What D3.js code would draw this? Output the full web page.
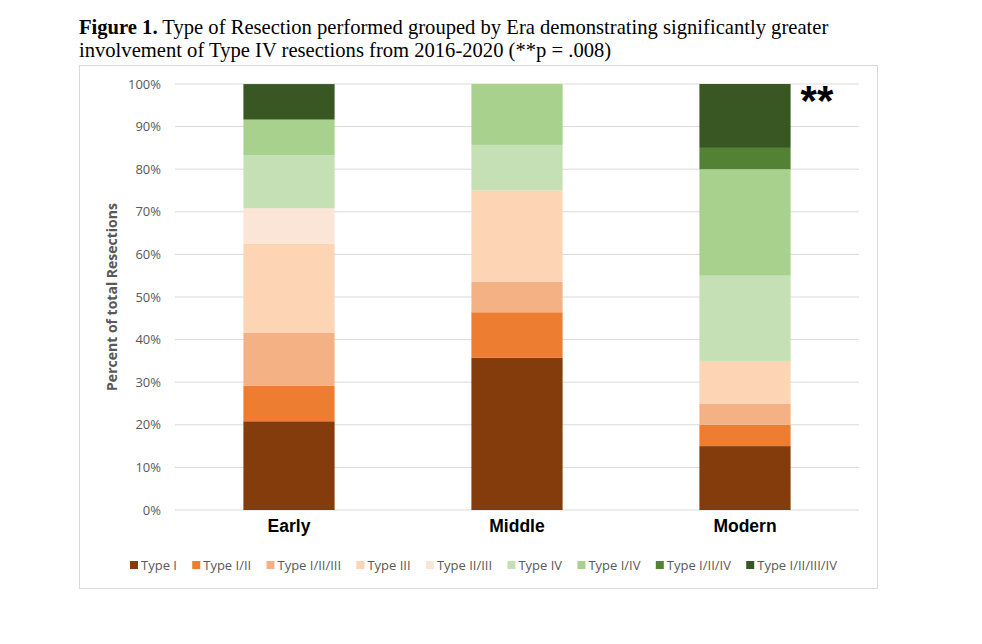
<!DOCTYPE html>
<html lang="en">
  <head>
    <meta charset="UTF-8" />
    <title>Type of Resection by Era</title>
    <style>
      body { margin: 0; background: #fff; }
      svg { display: block; }
    </style>
  </head>
  <body>
    <svg width="982" height="644"></svg>

    <script src="https://d3js.org/d3.v7.min.js"></script>
    <script>
      // Data (percent of resections per era)
      const eras = ["Early", "Middle", "Modern"];
      const types = ["Type I", "Type I/II", "Type I/II/III", "Type III", "Type II/III",
                     "Type IV", "Type I/IV", "Type I/II/IV", "Type I/II/III/IV"];
      const early = [20.83, 8.33, 12.5, 20.83, 8.33, 12.5, 8.33, 0, 8.33];
      const middle = [35.71, 10.71, 7.14, 21.43, 0, 10.71, 14.29, 0, 0];
      const modern = [15, 5, 5, 10, 0, 20, 25, 5, 15];
      const yTicks = [0, 10, 20, 30, 40, 50, 60, 70, 80, 90, 100];
      const colors = ["#843c0c", "#ed7d31", "#f4b183", "#fdd5b4", "#fbe5d6",
                      "#c5e0b4", "#a9d18e", "#548235", "#385723"];

      const series = [early, middle, modern];
      const rows = eras.map((era, i) => {
        const r = { era };
        types.forEach((t, j) => (r[t] = series[i][j]));
        return r;
      });

      const svg = d3.select("svg");

      // Title
      const title = svg.append("text")
        .attr("font-family", "'Liberation Serif', 'Times New Roman', serif")
        .attr("font-size", 20.6)
        .attr("fill", "#000");
      const l1 = title.append("tspan").attr("x", 79).attr("y", 34);
      l1.append("tspan").attr("font-weight", "bold").text("Figure 1.");
      l1.append("tspan").text(" Type of Resection performed grouped by Era demonstrating significantly greater");
      title.append("tspan").attr("x", 79).attr("y", 57)
        .text("involvement of Type IV resections from 2016-2020 (**p = .008)");

      // Chart frame
      svg.append("rect")
        .attr("x", 79.5).attr("y", 65.5)
        .attr("width", 798).attr("height", 523)
        .attr("fill", "#fff")
        .attr("stroke", "#d9d9d9");

      const x = d3.scaleBand().domain(eras).range([175, 859]).paddingInner(0.6).paddingOuter(0.3);
      const y = d3.scaleLinear().domain([0, 100]).range([510, 84]);

      // Gridlines
      svg.append("g")
        .selectAll("line")
        .data(yTicks)
        .join("line")
        .attr("x1", 175).attr("x2", 859)
        .attr("y1", (d) => y(d)).attr("y2", (d) => y(d))
        .attr("stroke", "#d9d9d9").attr("stroke-width", 1);

      // Y axis labels
      const yAxis = d3.axisLeft(y).tickValues(yTicks).tickSize(0).tickPadding(14)
        .tickFormat((d) => d + "%");
      svg.append("g")
        .attr("transform", "translate(175,0)")
        .call(yAxis)
        .call((g) => g.select(".domain").remove())
        .call((g) => g.selectAll("text")
          .attr("font-family", "'Open Sans', sans-serif")
          .attr("font-size", 13)
          .attr("fill", "#595959"));

      svg.append("text")
        .attr("transform", "translate(117,297) rotate(-90)")
        .attr("text-anchor", "middle")
        .attr("font-family", "'Open Sans', sans-serif")
        .attr("font-size", 14)
        .attr("font-weight", "bold")
        .attr("fill", "#595959")
        .text("Percent of total Resections");

      // Stacked bars
      const stacked = d3.stack().keys(types)(rows);
      svg.append("g")
        .selectAll("g")
        .data(stacked)
        .join("g")
        .attr("fill", (d, i) => colors[i])
        .selectAll("rect")
        .data((d) => d)
        .join("rect")
        .attr("x", (d) => x(d.data.era))
        .attr("y", (d) => y(d[1]))
        .attr("width", x.bandwidth())
        .attr("height", (d) => y(d[0]) - y(d[1]));

      // X axis labels
      const xAxis = d3.axisBottom(x).tickSize(0).tickPadding(10);
      svg.append("g")
        .attr("transform", "translate(0,510)")
        .call(xAxis)
        .call((g) => g.select(".domain").remove())
        .call((g) => g.selectAll("text")
          .attr("font-family", "'Liberation Sans', Arial, sans-serif")
          .attr("font-size", 17.5)
          .attr("font-weight", "bold")
          .attr("fill", "#000"));

      // Significance marker
      svg.append("text")
        .attr("x", x("Modern") + x.bandwidth() + 10)
        .attr("y", 115)
        .attr("font-family", "'Liberation Sans', Arial, sans-serif")
        .attr("font-size", 42)
        .attr("font-weight", "bold")
        .attr("fill", "#000")
        .text("**");

      // Legend, spread between x=130 and x=837 like the original
      const legend = svg.append("g")
        .attr("font-family", "'Open Sans', sans-serif")
        .attr("font-size", 13)
        .attr("fill", "#595959");
      const items = types.map((t, i) => {
        const sw = legend.append("rect")
          .attr("y", 561).attr("width", 8).attr("height", 8)
          .attr("fill", colors[i]);
        const tx = legend.append("text").attr("y", 569.5).text(t);
        return { sw, tx, w: tx.node().getComputedTextLength() };
      });
      const textTotal = d3.sum(items, (d) => d.w + 11);
      const gap = (837 - 130 - textTotal) / (types.length - 1);
      let lx = 130;
      items.forEach((it) => {
        it.sw.attr("x", lx);
        it.tx.attr("x", lx + 11);
        lx += 11 + it.w + gap;
      });
    </script>
  </body>
</html>
